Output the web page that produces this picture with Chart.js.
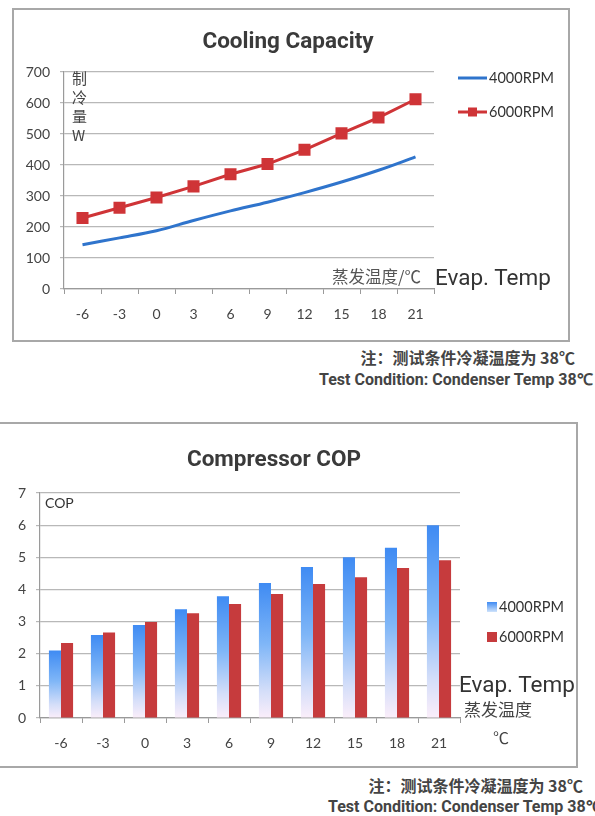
<!DOCTYPE html>
<html>
<head>
<meta charset="utf-8">
<script src="https://cdn.jsdelivr.net/npm/chart.js@4.4.1/dist/chart.umd.min.js"></script>
<style>
html,body{margin:0;padding:0;background:#fff;width:595px;height:816px;overflow:hidden;position:relative;}
.box{position:absolute;border:2px solid #a8a8a8;box-sizing:border-box;background:#fff;}
.box canvas{display:block;}
.t{position:absolute;white-space:nowrap;color:#3c3c3c;}
.rob{font-family:Roboto,sans-serif;}
.cjk{font-family:'Noto Sans CJK SC',sans-serif;}
</style>
</head>
<body>
<div class="box" style="left:12px;top:8px;width:558px;height:334px;"><canvas id="capChart" width="554" height="330"></canvas></div>
<div class="t cjk" style="left:72px;top:68px;font-size:15px;line-height:19px;color:#444;">制<br>冷<br>量<br>W</div>
<div class="t cjk" style="left:332px;top:266px;font-size:16.5px;line-height:21px;color:#555;">蒸发温度/℃</div>
<div class="t rob" style="left:435px;top:264px;font-size:22.5px;line-height:26px;color:#333;">Evap. Temp</div>
<div class="t cjk" style="right:20px;top:347px;font-size:16px;line-height:20px;font-weight:bold;color:#444;">注：测试条件冷凝温度为 38℃</div>
<div class="t rob" style="left:319px;top:370px;font-size:16px;line-height:20px;font-weight:bold;color:#444;">Test Condition: Condenser Temp 38℃</div>

<div class="box" style="left:-3px;top:422px;width:581px;height:346px;"><canvas id="copChart" width="577" height="342"></canvas></div>
<div class="t" style="left:45px;top:495px;font-family:Lato,sans-serif;font-size:14px;line-height:16px;color:#333;">COP</div>
<div class="t rob" style="left:459px;top:671px;font-size:22.5px;line-height:26px;color:#333;">Evap. Temp</div>
<div class="t cjk" style="left:464px;top:698px;font-size:17px;line-height:21px;color:#444;">蒸发温度</div>
<div class="t cjk" style="left:493px;top:727px;font-size:16px;line-height:20px;color:#444;">℃</div>
<div class="t cjk" style="right:12px;top:775px;font-size:16px;line-height:20px;font-weight:bold;color:#444;">注：测试条件冷凝温度为 38℃</div>
<div class="t rob" style="left:328px;top:797px;font-size:16px;line-height:20px;font-weight:bold;color:#444;">Test Condition: Condenser Temp 38℃</div>

<script>
// evaporating temperature (°C)
const evapTemps = ['-6', '-3', '0', '3', '6', '9', '12', '15', '18', '21'];

// cooling capacity, W
const cap4000 = [143, 165, 188, 221, 252, 280, 311, 345, 383, 426];
const cap6000 = [229, 262, 295, 331, 370, 403, 449, 502, 553, 612];

// compressor COP
const cop4000 = [2.1, 2.58, 2.89, 3.38, 3.79, 4.2, 4.7, 5.0, 5.3, 6.0];
const cop6000 = [2.33, 2.66, 2.99, 3.26, 3.55, 3.86, 4.17, 4.38, 4.67, 4.91];

const tickFont = { family: 'Lato, sans-serif', size: 14 };
const titleFont = { family: 'Roboto, sans-serif', size: 22.5, weight: 'bold', lineHeight: 1.2 };

// legend at the right of the plot, drawn from the datasets
const sideLegend = {
    id: 'sideLegend',
    afterDraw(chart, args, opts) {
        const ctx = chart.ctx;
        const area = chart.chartArea;
        ctx.save();
        ctx.font = '14.5px Lato, sans-serif';
        ctx.fillStyle = '#333';
        ctx.textBaseline = 'middle';
        chart.data.datasets.forEach((ds, i) => {
            const y = area.top + opts.y + i * opts.gap;
            const x = area.right + opts.x;
            if (opts.kind === 'line') {
                ctx.strokeStyle = ds.borderColor;
                ctx.lineWidth = 3;
                ctx.beginPath();
                ctx.moveTo(x, y);
                ctx.lineTo(x + 29, y);
                ctx.stroke();
                if (ds.pointRadius > 0) {
                    ctx.fillStyle = ds.pointBackgroundColor;
                    ctx.fillRect(x + 10, y - 4.5, 9, 9);
                }
                ctx.fillStyle = '#333';
                ctx.fillText(ds.label, x + 31, y);
            } else {
                let fill = ds.legendColor;
                if (Array.isArray(fill)) {
                    const g = ctx.createLinearGradient(0, y - 5, 0, y + 5);
                    g.addColorStop(0, fill[0]);
                    g.addColorStop(1, fill[1]);
                    fill = g;
                }
                ctx.fillStyle = fill;
                ctx.fillRect(x, y - 5, 10, 10);
                ctx.fillStyle = '#333';
                ctx.fillText(ds.label, x + 12, y);
            }
        });
        ctx.restore();
    }
};

function padAxis(w) {
    return {
        type: 'linear', position: 'right', display: true,
        grid: { display: false }, ticks: { display: false }, border: { display: false },
        afterFit: s => { s.width = w; }
    };
}

new Chart(document.getElementById('capChart').getContext('2d'), {
    type: 'line',
    data: {
        labels: evapTemps,
        datasets: [{
            label: '4000RPM',
            data: cap4000,
            borderColor: '#2f74cc',
            backgroundColor: '#2f74cc',
            borderWidth: 3,
            pointRadius: 0,
            tension: 0.35
        }, {
            label: '6000RPM',
            data: cap6000,
            borderColor: '#cf3437',
            backgroundColor: '#cf3437',
            pointBackgroundColor: '#cf3437',
            pointBorderColor: '#cf3437',
            borderWidth: 3,
            pointStyle: 'rect',
            pointRadius: 6.4,
            tension: 0
        }]
    },
    options: {
        responsive: false,
        animation: false,
        layout: { padding: { left: 0, right: 6, top: 0, bottom: 11 } },
        plugins: {
            legend: { display: false },
            tooltip: { enabled: false },
            title: { display: true, text: 'Cooling Capacity', color: '#3a3a3a', font: titleFont, padding: { top: 18.5, bottom: 16.5 } },
            sideLegend: { kind: 'line', x: 24, y: 6, gap: 34 }
        },
        scales: {
            x: {
                offset: true,
                grid: { offset: true, drawOnChartArea: false, drawTicks: true, tickLength: 5, color: '#9a9a9a' },
                border: { color: '#9a9a9a', width: 1.2 },
                ticks: { font: tickFont, color: '#444', padding: 12 },
                afterFit: s => { s.height = 40; }
            },
            y: {
                min: 0, max: 700,
                ticks: { stepSize: 100, font: tickFont, color: '#444', padding: 10 },
                grid: { color: '#b8b8b8', lineWidth: 1.2, tickLength: 4 },
                border: { color: '#9a9a9a', width: 1.2 },
                afterFit: s => { s.width = 50; }
            },
            pad: padAxis(128)
        }
    },
    plugins: [sideLegend]
});

function blueGradient(context) {
    const chart = context.chart;
    const { ctx, chartArea, scales } = chart;
    if (!chartArea || context.raw === undefined) return '#4a90f0';
    const top = scales.y.getPixelForValue(context.raw);
    const bottom = scales.y.getPixelForValue(0);
    const g = ctx.createLinearGradient(0, top, 0, bottom);
    g.addColorStop(0, '#3f8bf3');
    g.addColorStop(0.45, '#7fb6f7');
    g.addColorStop(0.8, '#d4def9');
    g.addColorStop(1, '#fbeefa');
    return g;
}

new Chart(document.getElementById('copChart').getContext('2d'), {
    type: 'bar',
    data: {
        labels: evapTemps,
        datasets: [{
            label: '4000RPM',
            data: cop4000,
            backgroundColor: blueGradient,
            legendColor: ['#3f8bf3', '#cfe3fb'],
            categoryPercentage: 0.575,
            barPercentage: 1
        }, {
            label: '6000RPM',
            data: cop6000,
            backgroundColor: '#c63b3d',
            legendColor: '#c63b3d',
            categoryPercentage: 0.575,
            barPercentage: 1
        }]
    },
    options: {
        responsive: false,
        animation: false,
        layout: { padding: { left: 0, right: 27, top: 0, bottom: 8 } },
        plugins: {
            legend: { display: false },
            tooltip: { enabled: false },
            title: { display: true, text: 'Compressor COP', color: '#3a3a3a', font: titleFont, padding: { top: 22.5, bottom: 19.5 } },
            sideLegend: { kind: 'bar', x: 27, y: 114, gap: 30 }
        },
        scales: {
            x: {
                grid: { offset: true, drawOnChartArea: false, drawTicks: true, tickLength: 5, color: '#9a9a9a' },
                border: { color: '#9a9a9a', width: 1.2 },
                ticks: { font: tickFont, color: '#444', padding: 12 },
                afterFit: s => { s.height = 40; }
            },
            y: {
                min: 0, max: 7,
                ticks: { stepSize: 1, font: tickFont, color: '#444', padding: 10 },
                grid: { color: '#b8b8b8', lineWidth: 1.2, tickLength: 4 },
                border: { color: '#9a9a9a', width: 1.2 },
                afterFit: s => { s.width = 41; }
            },
            pad: padAxis(89)
        }
    },
    plugins: [sideLegend]
});
</script>
</body>
</html>
